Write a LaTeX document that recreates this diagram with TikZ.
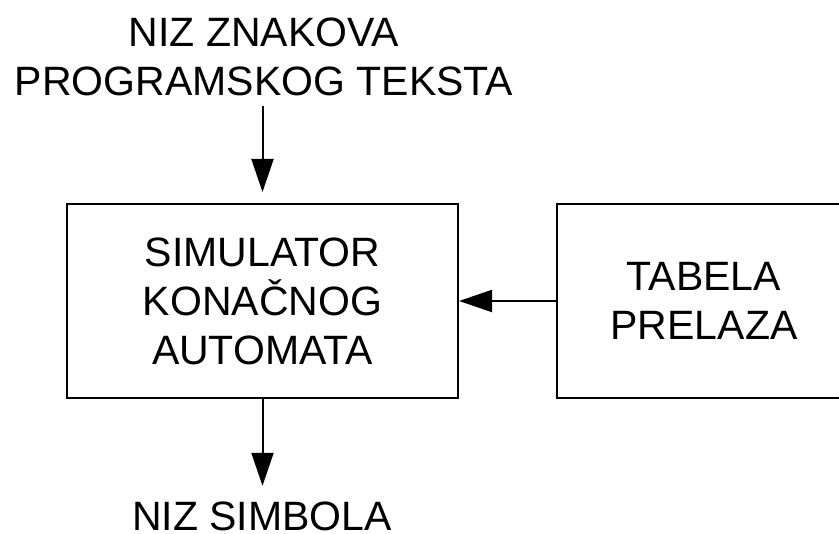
\documentclass[tikz,border=0pt]{standalone}
\usepackage{fontspec}
\setmainfont{Liberation Sans}
\usetikzlibrary{arrows.meta}
\begin{document}
\begin{tikzpicture}[x=1pt,y=-1pt,
  blk/.style={draw, line width=2pt, rectangle, inner sep=0pt, align=center},
  lbl/.style={inner sep=0pt, align=center},
  arr/.style={line width=2pt, -{Triangle[length=33pt,width=22pt]}},
  font=\fontsize{41}{49}\selectfont]
  \useasboundingbox (0,0) rectangle (839,534);
  % blocks
  \node[blk, minimum width=391pt, minimum height=194pt] (sim) at (262.5,301)
    {SIMULATOR\\KONAČNOG\\AUTOMATA};
  \node[blk, minimum width=294pt, minimum height=194pt] (tab) at (704,301)
    {TABELA\\PRELAZA};
  % input and output labels
  \node[lbl] (in) at (264,56.5) {NIZ ZNAKOVA\\PROGRAMSKOG TEKSTA};
  \node[lbl] (out) at (262,516.5) {NIZ SIMBOLA};
  % connectors
  \draw[arr, shorten <=10pt, shorten >=11pt] (in.south -| sim.north) -- (sim.north);
  \draw[arr] (tab.west) -- (sim.east);
  \draw[arr, shorten >=16pt] (sim.south) -- (out.north -| sim.south);
\end{tikzpicture}
\end{document}
